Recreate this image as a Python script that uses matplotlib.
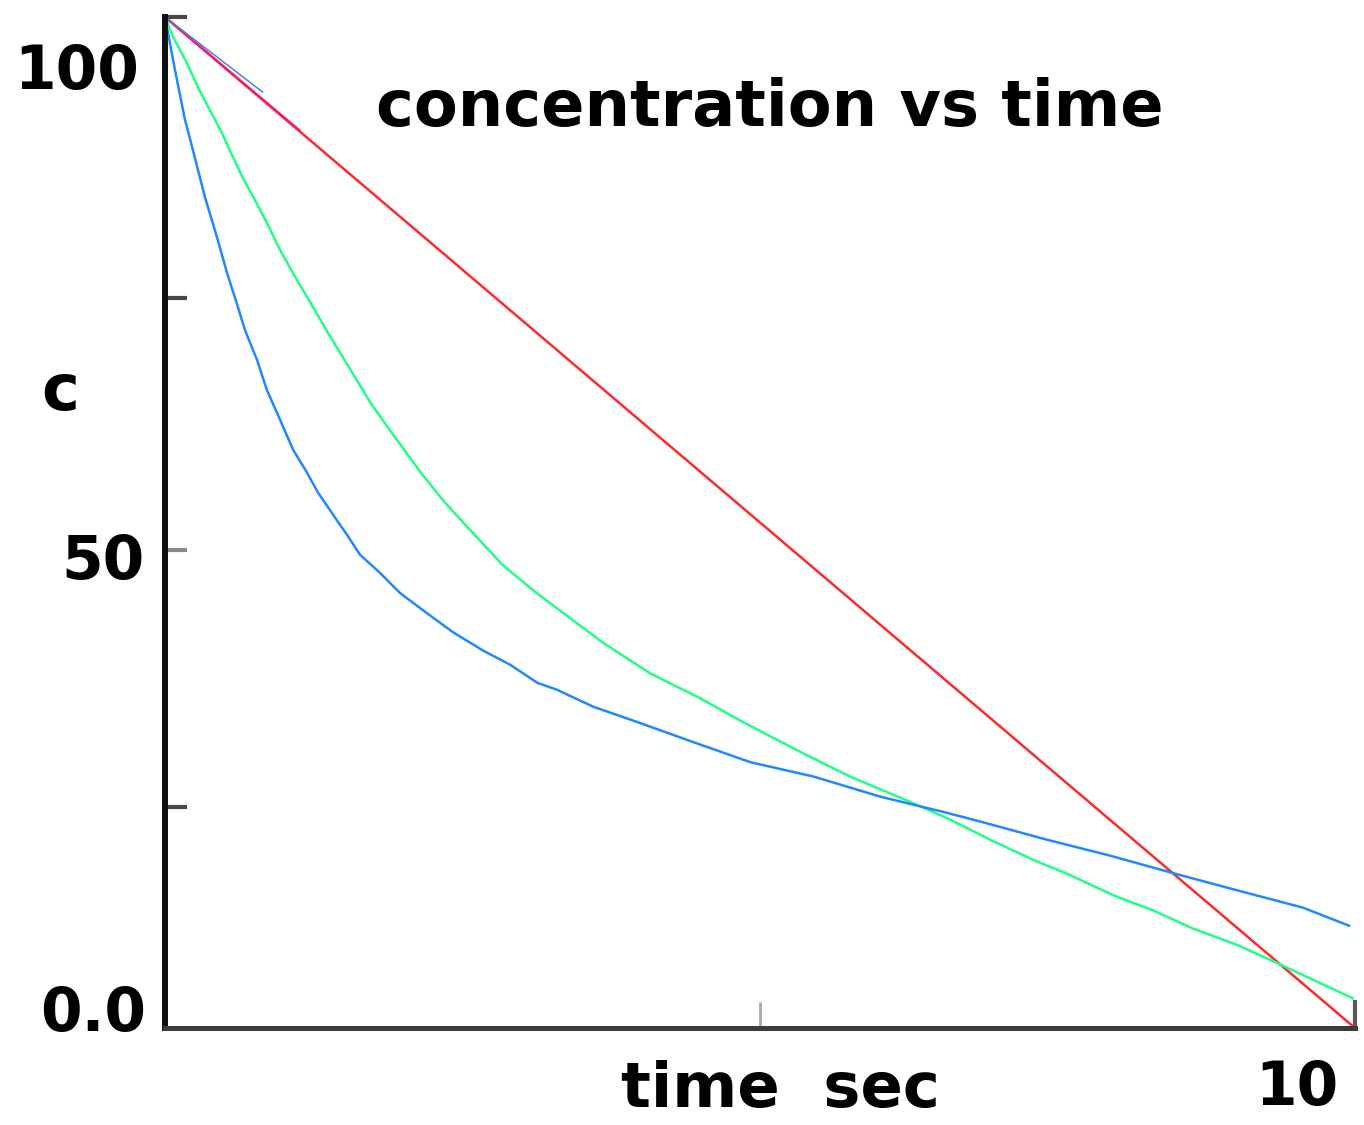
import matplotlib
matplotlib.use("Agg")
import matplotlib.pyplot as plt

# ---------------- data ----------------
red_t = [0.0, 10.0]
red_c = [105.75, 0.0]

green_t = [0.0, 0.067, 0.185, 0.277, 0.378, 0.479, 0.571, 0.655, 0.756, 0.857,
           0.966, 1.092, 1.235, 1.370, 1.571, 1.748, 1.950, 2.143, 2.336, 2.563,
           2.840, 3.092, 3.294, 3.681, 4.076, 4.496, 4.857, 5.336, 5.756, 6.235,
           6.597, 6.933, 7.294, 7.605, 7.966, 8.303, 8.639, 9.008, 9.345, 9.706, 9.983]
green_c = [105.75, 103.7, 100.9, 98.4, 96.0, 93.6, 91.1, 88.9, 86.6, 84.2,
           81.4, 78.6, 75.6, 72.7, 68.6, 65.0, 61.5, 58.2, 55.2, 52.1,
           48.4, 45.8, 43.9, 40.3, 37.1, 34.5, 32.0, 28.9, 26.3, 23.8,
           21.8, 19.7, 17.6, 16.0, 13.9, 12.3, 10.4, 8.7, 6.8, 4.7, 3.1]

blue_t = [0.0, 0.084, 0.168, 0.235, 0.336, 0.437, 0.521, 0.613, 0.672, 0.773,
          0.857, 0.950, 1.076, 1.193, 1.286, 1.445, 1.529, 1.639, 1.807, 1.975,
          2.20, 2.42, 2.67, 2.90, 3.13, 3.29, 3.60, 3.97, 4.44, 4.92,
          5.45, 6.01, 6.54, 6.82, 7.41, 7.92, 8.53, 9.01, 9.56, 9.95]
blue_c = [105.75, 100.2, 95.0, 91.8, 86.9, 82.7, 79.0, 75.4, 73.0, 69.9,
          66.7, 64.1, 60.5, 58.1, 56.0, 53.1, 51.6, 49.5, 47.6, 45.5,
          43.4, 41.4, 39.5, 38.0, 36.1, 35.4, 33.6, 32.0, 29.9, 27.8,
          26.3, 24.2, 22.6, 21.7, 19.7, 18.1, 16.0, 14.4, 12.6, 10.7]

# short overlapping segments near the start of the red line
magenta_t = [0.0, 1.13]
magenta_c = [105.75, 93.9]
lead_blue_t = [0.0, 0.82]
lead_blue_c = [105.75, 97.9]

ytick_dark = [23.1, 76.4, 105.75]
ytick_light = [50.0]
xtick_dark = [10.0]
xtick_light = [5.0]

# y value labels: text, right edge px, centre y px
ylabels = [("100", 139, 72), ("50", 145, 562), ("0.0", 146, 1015)]
title = "concentration vs time"

# ---------------- figure ----------------
W, H = 1364, 1125
fig = plt.figure(figsize=(W / 100, H / 100), dpi=100)
ax = fig.add_axes([165 / W, 1 - 1028 / H, (1355 - 165) / W, (1028 - 17) / H])
ax.set_xlim(0, 10)
ax.set_ylim(0, 105.75)

font = dict(family="DejaVu Sans", weight="bold", color="black")

lw = 1.8
ax.plot(red_t, red_c, color="#ff2a2a", lw=lw, solid_capstyle="butt")
ax.plot(green_t, green_c, color="#22ff88", lw=lw)
ax.plot(blue_t, blue_c, color="#2288ff", lw=lw)
ax.plot(magenta_t, magenta_c, color="#e8207a", lw=1.6)
ax.plot(lead_blue_t, lead_blue_c, color="#4a7cf0", lw=1.1)

for s in ["top", "right"]:
    ax.spines[s].set_visible(False)
ax.spines["left"].set_color("#101010")
ax.spines["left"].set_linewidth(4.3)
ax.spines["bottom"].set_color("#3c3c3c")
ax.spines["bottom"].set_linewidth(3.6)

ax.set_yticks(ytick_dark)
ax.set_yticks(ytick_light, minor=True)
ax.set_xticks(xtick_dark)
ax.set_xticks(xtick_light, minor=True)
ax.tick_params(which="both", labelleft=False, labelbottom=False)
ax.tick_params(axis="y", which="major", direction="in", length=16, width=3.0, color="#484848")
ax.tick_params(axis="y", which="minor", direction="in", length=16, width=3.0, color="#8a8a8a")
ax.tick_params(axis="x", which="major", direction="in", length=20, width=3.0, color="#5a5a5a")
ax.tick_params(axis="x", which="minor", direction="in", length=19, width=2.0, color="#aaaaaa")
for tk in ax.yaxis.get_major_ticks():
    tk.tick1line.set_clip_on(False)

for txt, xr, yc in ylabels:
    fig.text(xr / W, 1 - yc / H, txt, ha="right", va="center", fontsize=43, **font)

fig.text(60 / W, 1 - 392 / H, "c", ha="center", va="center", fontsize=46, **font)
fig.text(780 / W, 1 - 1090 / H, "time  sec", ha="center", va="center", fontsize=45, **font)
fig.text(1297 / W, 1 - 1088 / H, "10", ha="center", va="center", fontsize=43, **font)
fig.text(770 / W, 1 - 108 / H, title, ha="center", va="center", fontsize=46, **font)

fig.savefig("out.png", dpi=100, facecolor="white")
